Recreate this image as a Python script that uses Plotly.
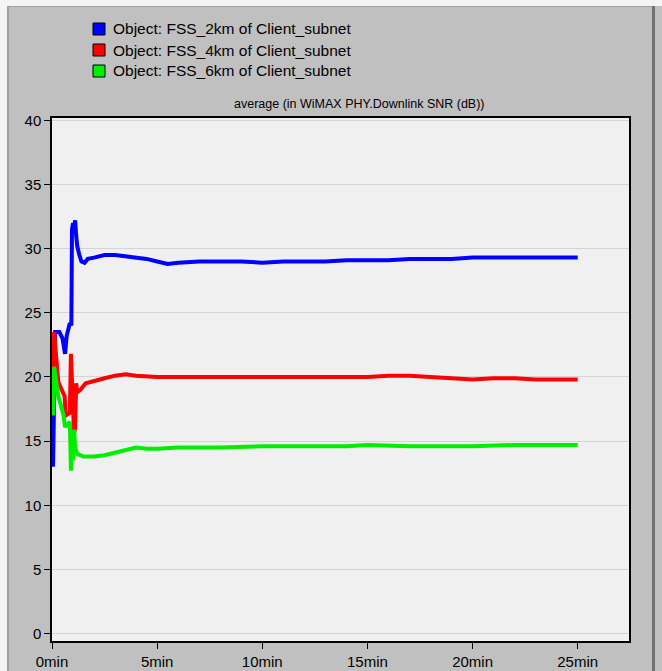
import plotly.graph_objects as go

# ---- data (minutes, SNR dB) ----
t_2km = [0.05, 0.15, 0.35, 0.5, 0.62, 0.7, 0.85, 0.92, 0.95, 1.0, 1.05, 1.1, 1.15, 1.2, 1.3, 1.4, 1.55, 1.7,
         2.0, 2.5, 3.0, 3.5, 4.0, 4.5, 5.0, 5.5, 6.0, 7.0, 8.0, 9.0, 10.0, 11.0, 12.0, 13.0, 14.0, 15.0,
         16.0, 17.0, 18.0, 19.0, 20.0, 21.0, 22.0, 23.0, 24.0, 25.0]
snr_2km = [13.0, 23.5, 23.5, 23.0, 21.8, 23.2, 24.2, 24.0, 31.5, 32.0, 31.6, 32.2, 31.0, 30.2, 29.5, 29.0, 28.9, 29.2,
           29.3, 29.5, 29.5, 29.4, 29.3, 29.2, 29.0, 28.8, 28.9, 29.0, 29.0, 29.0, 28.9, 29.0, 29.0, 29.0, 29.1, 29.1,
           29.1, 29.2, 29.2, 29.2, 29.3, 29.3, 29.3, 29.3, 29.3, 29.3]

t_4km = [0.08, 0.1, 0.3, 0.6, 0.65, 0.85, 0.9, 0.95, 1.0, 1.05, 1.1, 1.15, 1.2, 1.35, 1.6, 2.0, 2.5, 3.0, 3.5,
         4.0, 5.0, 6.0, 8.0, 10.0, 12.0, 14.0, 15.0, 16.0, 17.0, 18.0, 19.0, 20.0, 21.0, 22.0, 23.0, 24.0, 25.0]
snr_4km = [17.5, 23.5, 19.6, 18.5, 17.0, 17.2, 21.8, 19.0, 17.5, 15.6, 16.0, 19.5, 18.8, 19.0, 19.5, 19.7, 19.9, 20.1, 20.2,
           20.1, 20.0, 20.0, 20.0, 20.0, 20.0, 20.0, 20.0, 20.1, 20.1, 20.0, 19.9, 19.8, 19.9, 19.9, 19.8, 19.8, 19.8]

t_6km = [0.05, 0.1, 0.3, 0.55, 0.62, 0.85, 0.9, 0.95, 1.0, 1.05, 1.1, 1.2, 1.5, 2.0, 2.5, 3.0, 3.5, 4.0, 4.5,
         5.0, 6.0, 7.0, 8.0, 10.0, 12.0, 14.0, 15.0, 17.0, 20.0, 22.0, 25.0]
snr_6km = [17.0, 20.8, 18.5, 17.0, 16.1, 16.5, 12.7, 15.5, 13.5, 15.9, 14.5, 14.0, 13.8, 13.8, 13.9, 14.1, 14.3, 14.5, 14.4,
           14.4, 14.5, 14.5, 14.5, 14.6, 14.6, 14.6, 14.7, 14.6, 14.6, 14.7, 14.7]

series_names = ["Object: FSS_2km of Client_subnet",
                "Object: FSS_4km of Client_subnet",
                "Object: FSS_6km of Client_subnet"]
colors = ["#0000ff", "#ff0000", "#00ee00"]
x_tickvals = [0, 5, 10, 15, 20, 25]
x_ticktext = ["0min", "5min", "10min", "15min", "20min", "25min"]
y_tickvals = [0, 5, 10, 15, 20, 25, 30, 35, 40]
title_text = "average (in WiMAX PHY.Downlink SNR (dB))"

FONT = "Liberation Sans"

fig = go.Figure()
for xs, ys, c, n in [(t_2km, snr_2km, colors[0], series_names[0]),
                     (t_4km, snr_4km, colors[1], series_names[1]),
                     (t_6km, snr_6km, colors[2], series_names[2])]:
    fig.add_trace(go.Scatter(x=xs, y=ys, mode="lines", name=n,
                             line=dict(color=c, width=4), showlegend=False))

W, H = 662, 671
L, R, T, B = 52, 33, 118, 30
pw, ph = W - L - R, H - T - B

def px_x(p):
    return (p - L) / pw

def px_y(p):
    return 1 - (p - T) / ph

shapes = []
annotations = []
# legend rows
leg_y = [29, 50, 71]
for yy, c, n in zip(leg_y, colors, series_names):
    shapes.append(dict(type="rect", xref="paper", yref="paper",
                       x0=px_x(93), x1=px_x(105), y0=px_y(yy + 6), y1=px_y(yy - 6),
                       fillcolor=c, line=dict(color="#000000", width=1)))
    annotations.append(dict(text=n, xref="paper", yref="paper", x=px_x(111), y=px_y(yy),
                            xanchor="left", yanchor="middle", showarrow=False,
                            font=dict(family=FONT, size=15.5, color="#000000")))
annotations.append(dict(text=title_text, xref="paper", yref="paper", x=px_x(359), y=px_y(104),
                        xanchor="center", yanchor="middle", showarrow=False,
                        font=dict(family=FONT, size=12.5, color="#000000")))
# frame decorations
shapes.append(dict(type="rect", xref="paper", yref="paper", x0=px_x(0), x1=px_x(662), y0=px_y(0), y1=px_y(6),
                   fillcolor="#f4f4f4", line=dict(width=0), layer="below"))
shapes.append(dict(type="rect", xref="paper", yref="paper", x0=px_x(0), x1=px_x(7), y0=px_y(0), y1=px_y(671),
                   fillcolor="#f4f4f4", line=dict(width=0), layer="below"))
shapes.append(dict(type="line", xref="paper", yref="paper", x0=px_x(8), x1=px_x(8), y0=px_y(6), y1=px_y(671),
                   line=dict(color="#808080", width=1), layer="below"))
shapes.append(dict(type="line", xref="paper", yref="paper", x0=px_x(8), x1=px_x(652), y0=px_y(6.5), y1=px_y(6.5),
                   line=dict(color="#a0a0a0", width=1), layer="below"))
shapes.append(dict(type="rect", xref="paper", yref="paper", x0=px_x(652), x1=px_x(655), y0=px_y(6), y1=px_y(671),
                   fillcolor="#707070", line=dict(width=0), layer="below"))

fig.update_layout(
    width=W, height=H,
    margin=dict(l=L, r=R, t=T, b=B, autoexpand=False),
    paper_bgcolor="#c0c0c0",
    plot_bgcolor="#f0f0f0",
    font=dict(family=FONT, size=15, color="#000000"),
    shapes=shapes,
    annotations=annotations,
    xaxis=dict(range=[0, 27.44], tickvals=x_tickvals, ticktext=x_ticktext,
               showgrid=False, zeroline=False, showline=True, linecolor="#000000", linewidth=1.5,
               mirror=True, ticks="outside", ticklen=6, tickcolor="#000000",
               tickfont=dict(family=FONT, size=15)),
    yaxis=dict(range=[-0.58, 40.18], tickvals=y_tickvals,
               showgrid=True, gridcolor="#d4d4d4", gridwidth=1, zeroline=False,
               showline=True, linecolor="#000000", linewidth=1.5, mirror=True,
               ticks="outside", ticklen=6, tickcolor="#000000",
               tickfont=dict(family=FONT, size=15)),
)

fig.write_html("out.html", config={"displayModeBar": False},
               post_script="document.body.style.margin='0';")
